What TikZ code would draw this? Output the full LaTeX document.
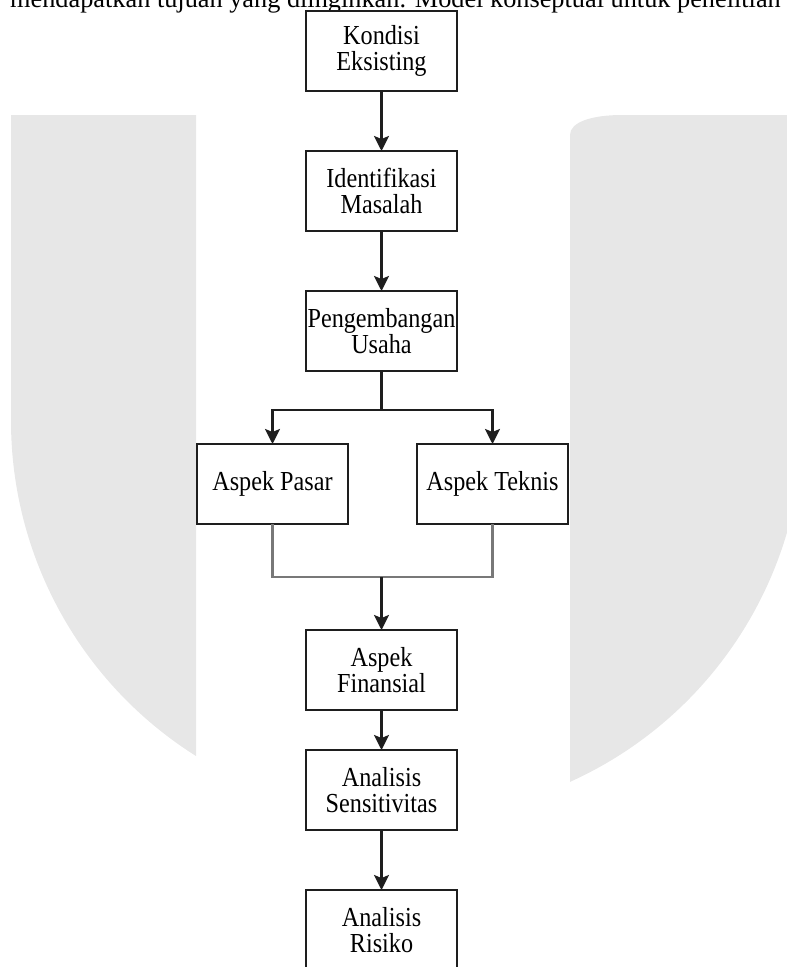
\documentclass[tikz,border=0pt]{standalone}
\usepackage{fontspec}
\setmainfont{Liberation Serif}
\newfontfamily\boxfont{Liberation Serif}[FakeStretch=0.88]
\usepackage{tikz}
\usetikzlibrary{
  arrows.meta,
  positioning,
  calc
}
\usepackage{xcolor}
\definecolor{wmgray}  {RGB}{231, 231, 231}
\definecolor{linedark}{RGB}{ 30,  30,  30}
\definecolor{linegray}{RGB}{120, 120, 120}
\tikzset{
  flowbox/.style={
    draw=linedark, fill=white, line width=1.5pt,
    minimum width=151pt, minimum height=80pt,
    inner sep=1pt, outer sep=0pt, align=center,
    font=\boxfont\fontsize{27.5}{26.7}\selectfont
  },
  arr/.style={
    draw=linedark, line width=2.5pt,
    -{Stealth[length=15pt, width=15pt, inset=3pt]}
  },
  arrline/.style={
    draw=linedark, line width=2.5pt
  },
  joinline/.style={
    draw=linegray, line width=2.5pt
  },
  wmshape/.style={
    fill=wmgray, draw=none
  },
}

\begin{document}
\begin{tikzpicture}[x=1pt, y=1pt]

\useasboundingbox (0,0) rectangle (787,-967);
\clip (0,0) rectangle (787,-967);

% ── Watermark in the background ───────────────────────────────────────────────
\path[wmshape] (11,-115) -- (196,-115) -- (196,-756)
  arc[start angle=237.8, end angle=180, radius=396] -- cycle;
\path[wmshape] (570,-782) -- (570,-135)
  .. controls (570,-122) and (592,-115) .. (622,-115)
  -- (803,-115) -- (803,-421)
  arc[start angle=360, end angle=294.3, radius=396] -- cycle;

% ── Running text, cut at the top ──────────────────────────────────────────────
\node[anchor=base west, inner sep=0pt,
      font=\fontsize{26.3}{30}\selectfont] (kalimat) at (10,-7.5)
  {mendapatkan tujuan yang diinginkan. Model konseptual untuk penelitian};

% ── Main column ───────────────────────────────────────────────────────────────
\node[flowbox] (kondisi) at (381.5,-51) {Kondisi\\Eksisting};
\node[flowbox, below=60pt of kondisi] (identifikasi) {Identifikasi\\Masalah};
\node[flowbox, below=60pt of identifikasi] (pengembangan) {Pengembangan\\Usaha};

% ── Two aspects side by side ──────────────────────────────────────────────────
\node[flowbox, below=73pt of pengembangan, xshift=-109pt] (pasar) {Aspek Pasar};
\node[flowbox, below=73pt of pengembangan, xshift=111pt] (teknis) {Aspek Teknis};

% ── Lower column ──────────────────────────────────────────────────────────────
\node[flowbox, below=106pt of pengembangan |- pasar.south] (finansial) {Aspek\\Finansial};
\node[flowbox, below=40pt of finansial] (sensitivitas) {Analisis\\Sensitivitas};
\node[flowbox, below=60pt of sensitivitas] (risiko) {Analisis\\Risiko};

% ── Connectors ────────────────────────────────────────────────────────────────
\draw[arr] (kondisi) -- (identifikasi);
\draw[arr] (identifikasi) -- (pengembangan);

\draw[arrline] (pengembangan.south) -- ++(0,-39) coordinate (cabang);
\draw[arr] (cabang) -| (pasar);
\draw[arr] (cabang) -| (teknis);

\coordinate (gabung) at ($(pengembangan |- pasar.south)+(0,-53)$);
\draw[joinline] (pasar) |- (gabung) -| (teknis);
\draw[arr] (gabung) -- (finansial);

\draw[arr] (finansial) -- (sensitivitas);
\draw[arr] (sensitivitas) -- (risiko);

\end{tikzpicture}
\end{document}
